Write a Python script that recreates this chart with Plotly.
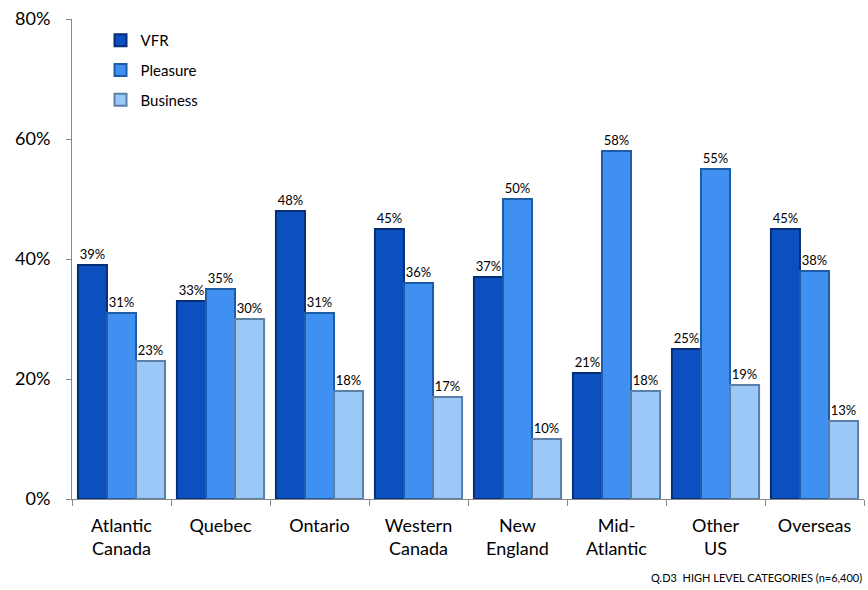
import plotly.graph_objects as go

categories = ["Atlantic<br>Canada", "Quebec", "Ontario", "Western<br>Canada",
              "New<br>England", "Mid-<br>Atlantic", "Other<br>US", "Overseas"]
vfr = [39, 33, 48, 45, 37, 21, 25, 45]
pleasure = [31, 35, 31, 36, 50, 58, 55, 38]
business = [23, 30, 18, 17, 10, 18, 19, 13]

series = [
    ("VFR", vfr, "#0C4FBE", "#062F78", "legend"),
    ("Pleasure", pleasure, "#3F90F0", "#1F5CA8", "legend2"),
    ("Business", business, "#9CC8F8", "#5A7FA8", "legend3"),
]

fig = go.Figure()
for name, vals, color, edge, leg in series:
    fig.add_trace(go.Bar(
        name=name, x=categories, y=vals,
        marker=dict(color=color, line=dict(color=edge, width=2)),
        text=[f"{v}%" for v in vals], textposition="outside",
        textfont=dict(size=13, color="#000000", family="Lato"),
        cliponaxis=False, legend=leg,
    ))

font_family = "Lato"
leg_common = dict(font=dict(size=15, family=font_family, color="#000"),
                  bgcolor="rgba(0,0,0,0)", xanchor="left", yanchor="middle",
                  itemwidth=30)
fig.update_layout(
    width=868, height=590,
    margin=dict(l=72, r=4, t=19, b=91),
    plot_bgcolor="white", paper_bgcolor="white",
    barmode="group", bargap=0.12, bargroupgap=0,
    font=dict(family=font_family, color="#000"),
    showlegend=True,
    legend=dict(x=0.036, y=0.955, **leg_common),
    legend2=dict(x=0.036, y=0.893, **leg_common),
    legend3=dict(x=0.036, y=0.831, **leg_common),
    yaxis=dict(range=[0, 80], tickvals=[0, 20, 40, 60, 80],
               ticktext=["0%", "20%", "40%", "60%", "80%"],
               showgrid=False, zeroline=False, showline=True,
               linecolor="#888888", linewidth=1, ticks="outside",
               ticklen=5, tickcolor="#888888", ticklabelstandoff=12,
               tickfont=dict(size=18, family=font_family)),
    xaxis=dict(showgrid=False, showline=True, linecolor="#888888",
               linewidth=1, ticks="outside", tickson="boundaries",
               ticklen=6, tickcolor="#888888", ticklabelstandoff=10,
               tickfont=dict(size=18, family=font_family)),
    annotations=[dict(text="Q.D3  HIGH LEVEL CATEGORIES (n=6,400)",
                      xref="paper", yref="paper", x=1.0, y=-0.163,
                      xanchor="right", yanchor="middle", showarrow=False,
                      font=dict(size=11, family=font_family))],
)

fig.write_html(
    "out.html",
    config={"displayModeBar": False},
    post_script="document.body.style.margin='0';"
                "document.documentElement.style.overflow='hidden';"
                "document.body.style.overflow='hidden';",
)
